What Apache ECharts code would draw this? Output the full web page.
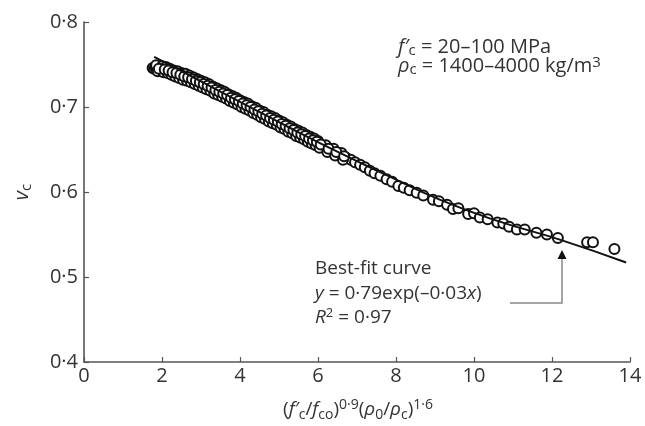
<!DOCTYPE html>
<html>
<head>
<meta charset="utf-8">
<script src="https://cdn.jsdelivr.net/npm/echarts@6/dist/echarts.min.js"></script>
<style>html,body{margin:0;padding:0;background:#fff}#c{width:645px;height:426px}</style>
</head>
<body>
<div id="c"></div>
<script>
// Measured points (x = (f'c/fco)^0.9 (rho0/rhoc)^1.6, y = v_c)
const pointX = [1.76,1.80,1.84,1.88,1.92,1.97,2.02,2.06,2.10,2.15,2.20,2.25,2.30,2.35,2.40,2.46,2.52,2.58,2.64,2.70,2.76,2.82,2.88,2.94,3.00,3.06,3.12,3.18,3.24,3.30,3.36,3.42,3.48,3.54,3.60,3.66,3.72,3.78,3.84,3.90,3.96,4.02,4.08,4.14,4.20,4.27,4.34,4.40,4.46,4.53,4.60,4.66,4.73,4.80,4.87,4.94,5.00,5.07,5.14,5.21,5.28,5.35,5.42,5.50,5.57,5.64,5.72,5.80,5.88,5.96,6.05,6.14,6.23,6.32,6.42,6.52,6.62,6.73,6.84,6.95,7.08,7.20,7.33,7.45,7.60,7.76,7.90,8.06,8.20,8.35,8.53,8.70,8.95,9.10,9.31,9.46,9.60,9.85,10.00,10.15,10.35,10.60,10.75,10.90,11.10,11.30,11.60,11.87,12.15,12.90,13.05,13.60];
const pointY = [0.746,0.745,0.746,0.744,0.745,0.744,0.743,0.744,0.742,0.742,0.741,0.741,0.739,0.739,0.738,0.737,0.736,0.735,0.734,0.733,0.732,0.731,0.729,0.728,0.727,0.726,0.724,0.723,0.722,0.720,0.719,0.718,0.716,0.715,0.714,0.712,0.711,0.709,0.708,0.707,0.705,0.704,0.702,0.701,0.699,0.698,0.696,0.695,0.693,0.692,0.690,0.689,0.687,0.686,0.684,0.682,0.681,0.679,0.678,0.676,0.674,0.673,0.671,0.669,0.668,0.666,0.664,0.662,0.660,0.658,0.656,0.654,0.652,0.650,0.647,0.645,0.643,0.640,0.638,0.635,0.632,0.629,0.625,0.622,0.619,0.615,0.612,0.607,0.605,0.602,0.599,0.596,0.591,0.589,0.585,0.580,0.581,0.574,0.575,0.570,0.568,0.564,0.563,0.559,0.556,0.556,0.552,0.550,0.546,0.541,0.541,0.533];
// Extra overlapping points in the dense part of the band (upper, lower and middle)
const bandX  = [1.85,2.0,2.1,2.2,2.3,2.4,2.5,2.6,2.7,2.8,2.9,3.0,3.1,3.2,3.3,3.4,3.5,3.6,3.7,3.8,3.9,4.0,4.1,4.2,4.3,4.4,4.5,4.6,4.7,4.8,4.9,5.0,5.1,5.2,5.3,5.4,5.5,5.6,5.7,5.8,5.9,6.0,6.2,6.4,6.6];
const bandYA = [0.749,0.748,0.747,0.745,0.743,0.742,0.740,0.739,0.737,0.735,0.733,0.731,0.729,0.727,0.724,0.722,0.720,0.718,0.715,0.713,0.711,0.708,0.706,0.704,0.701,0.699,0.696,0.694,0.691,0.689,0.687,0.684,0.682,0.679,0.677,0.674,0.672,0.670,0.667,0.665,0.663,0.660,0.655,0.651,0.646];
const bandYB = [0.742,0.741,0.740,0.738,0.736,0.734,0.732,0.731,0.729,0.727,0.725,0.723,0.721,0.719,0.716,0.714,0.712,0.710,0.707,0.705,0.703,0.700,0.698,0.696,0.693,0.691,0.688,0.686,0.683,0.681,0.679,0.676,0.674,0.671,0.669,0.666,0.664,0.662,0.659,0.657,0.655,0.652,0.647,0.643,0.638];
const bandYC = [0.745,0.744,0.743,0.741,0.740,0.738,0.736,0.735,0.733,0.731,0.729,0.727,0.725,0.723,0.720,0.718,0.716,0.714,0.711,0.709,0.707,0.704,0.702,0.700,0.697,0.695,0.692,0.690,0.687,0.685,0.683,0.680,0.678,0.675,0.673,0.670,0.668,0.666,0.663,0.661,0.659,0.656,0.651,0.647,0.642];
// Best-fit curve y = 0.79exp(-0.03x), as drawn on the figure
const fitX = [1.8,2.8,4.0,5.3,6.56,7.8,9.12,10.6,12.2,13.9];
const fitY = [0.759,0.735,0.706,0.675,0.646,0.619,0.591,0.566,0.544,0.517];
const xTicks = [0,2,4,6,8,10,12,14];
const yTicks = [0.4,0.5,0.6,0.7,0.8];

const FONT = '"Open Sans", "Noto Sans", sans-serif';
const TXT = '#333';
const chart = echarts.init(document.getElementById('c'), null, {renderer: 'canvas'});
const pts = pointX.map((x, i) => [x, pointY[i]])
  .concat(bandX.map((x, i) => [x, bandYA[i]]))
  .concat(bandX.map((x, i) => [x + 0.04, bandYB[i]]))
  .concat(bandX.map((x, i) => [x + 0.07, bandYC[i]]));
const fit = fitX.map((x, i) => [x, fitY[i]]);

chart.setOption({
  animation: false,
  backgroundColor: '#fff',
  grid: {left: 84, right: 15, top: 22, bottom: 64},
  xAxis: {
    type: 'value', min: xTicks[0], max: xTicks[xTicks.length-1], interval: 2,
    axisLine: {show: true, lineStyle: {color: '#555', width: 1.6}},
    axisTick: {show: true, inside: true, length: 5, lineStyle: {color: '#555', width: 1.2}},
    axisLabel: {color: TXT, fontFamily: FONT, fontSize: 20, margin: 4},
    splitLine: {show: false}
  },
  yAxis: {
    type: 'value', min: yTicks[0], max: yTicks[yTicks.length-1], interval: 0.1,
    axisLine: {show: true, lineStyle: {color: '#555', width: 1.6}},
    axisTick: {show: true, inside: true, length: 5, lineStyle: {color: '#555', width: 1.2}},
    axisLabel: {color: TXT, fontFamily: FONT, fontSize: 20, margin: 6,
      formatter: v => v.toFixed(1).replace('.', '·')},
    splitLine: {show: false}
  },
  series: [
    {type: 'scatter', data: pts, symbol: 'emptyCircle', symbolSize: 10,
     itemStyle: {color: '#111', borderColor: '#111', borderWidth: 2, opacity: 1}, z: 2},
    {type: 'line', data: fit, smooth: true, symbol: 'none',
     lineStyle: {color: '#111', width: 2}, z: 3}
  ],
  graphic: [
    {type: 'text', left: 398, top: 37, style: {
      rich: {
        i: {fontFamily: FONT, fontStyle: 'italic', fontSize: 20, fill: TXT, lineHeight: 22, verticalAlign: 'middle'},
        p: {fontFamily: FONT, fontSize: 20, fill: TXT, lineHeight: 22, verticalAlign: 'middle'},
        sub: {fontFamily: FONT, fontSize: 15, fill: TXT, lineHeight: 13, verticalAlign: 'bottom'}
      },
      text: '{i|f′}{sub|c}{p| = 20–100 MPa}'
    }},
    {type: 'text', left: 398, top: 55, style: {
      rich: {
        i: {fontFamily: FONT, fontStyle: 'italic', fontSize: 20, fill: TXT, lineHeight: 22, verticalAlign: 'middle'},
        p: {fontFamily: FONT, fontSize: 20, fill: TXT, lineHeight: 22, verticalAlign: 'middle'},
        sub: {fontFamily: FONT, fontSize: 15, fill: TXT, lineHeight: 13, verticalAlign: 'bottom'},
        sup: {fontFamily: FONT, fontSize: 15, fill: TXT, lineHeight: 13, verticalAlign: 'top'}
      },
      text: '{i|ρ}{sub|c}{p| = 1400–4000 kg/m}{sup|3}'
    }},
    {type: 'text', left: 315, top: 259, style: {
      text: 'Best-fit curve', fontFamily: FONT, fontSize: 19, fill: TXT
    }},
    {type: 'text', left: 315, top: 284, style: {
      rich: {
        i: {fontFamily: FONT, fontStyle: 'italic', fontSize: 19, fill: TXT},
        p: {fontFamily: FONT, fontSize: 19, fill: TXT}
      },
      text: '{i|y}{p| = 0·79exp(–0·03}{i|x}{p|)}'
    }},
    {type: 'text', left: 315, top: 307, style: {
      rich: {
        i: {fontFamily: FONT, fontStyle: 'italic', fontSize: 19, fill: TXT, lineHeight: 22, verticalAlign: 'middle'},
        p: {fontFamily: FONT, fontSize: 19, fill: TXT, lineHeight: 22, verticalAlign: 'middle'},
        sup: {fontFamily: FONT, fontSize: 13, fill: TXT, lineHeight: 12, verticalAlign: 'top'}
      },
      text: '{i|R}{sup|2}{p| = 0·97}'
    }},
    {type: 'polyline', shape: {points: [[510, 303], [562, 303], [562, 258]]},
     style: {stroke: '#888', lineWidth: 1.5, fill: null}},
    {type: 'polygon', shape: {points: [[562, 250], [557.5, 259], [566.5, 259]]},
     style: {fill: '#111'}},
    {type: 'text', x: 22, y: 192, rotation: Math.PI/2, style: {
      rich: {
        i: {fontFamily: FONT, fontStyle: 'italic', fontSize: 20, fill: TXT, lineHeight: 24, verticalAlign: 'middle'},
        sub: {fontFamily: FONT, fontSize: 15, fill: TXT, lineHeight: 14, verticalAlign: 'bottom'}
      },
      text: '{i|v}{sub|c}', align: 'center', verticalAlign: 'middle'
    }},
    {type: 'text', x: 358, y: 410, style: {
      rich: {
        i: {fontFamily: FONT, fontStyle: 'italic', fontSize: 19, fill: TXT, lineHeight: 24, verticalAlign: 'middle'},
        p: {fontFamily: FONT, fontSize: 19, fill: TXT, lineHeight: 24, verticalAlign: 'middle'},
        sub: {fontFamily: FONT, fontSize: 14, fill: TXT, lineHeight: 13, verticalAlign: 'bottom'},
        sup: {fontFamily: FONT, fontSize: 14, fill: TXT, lineHeight: 13, verticalAlign: 'top'}
      },
      text: '{p|(}{i|f′}{sub|c}{p|/}{i|f}{sub|co}{p|)}{sup|0·9}{p|(}{i|ρ}{sub|0}{p|/}{i|ρ}{sub|c}{p|)}{sup|1·6}',
      align: 'center', verticalAlign: 'middle'
    }}
  ]
});
</script>
</body>
</html>
